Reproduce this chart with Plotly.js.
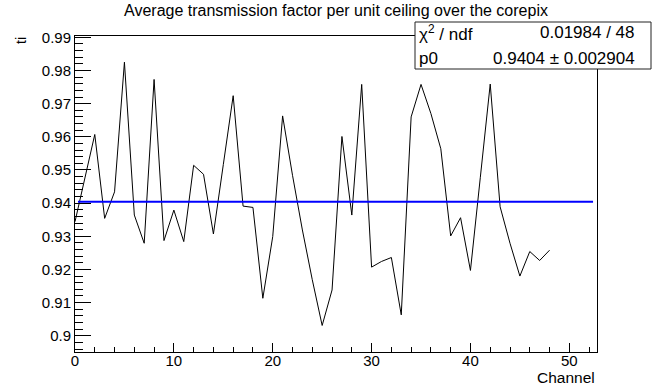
<!DOCTYPE html>
<html>
<head>
<meta charset="utf-8">
<script src="https://cdn.plot.ly/plotly-3.0.1.min.js"></script>
<style>html,body{margin:0;padding:0;background:#fff;}#chart{width:660px;height:385px;}</style>
</head>
<body>
<div id="chart"></div>
<script>
var chartTitle = "Average transmission factor per unit ceiling over the corepix";
var xTitle = "Channel";
var yTitle = "ti";
var channels = [0,1,2,3,4,5,6,7,8,9,10,11,12,13,14,15,16,17,18,19,20,21,22,23,24,25,26,27,28,29,30,31,32,33,34,35,36,37,38,39,40,41,42,43,44,45,46,47,48];
var transmission = [0.9344,0.9475,0.9607,0.9354,0.9434,0.9825,0.9364,0.9279,0.9773,0.9287,
  0.9379,0.9284,0.9514,0.9487,0.9307,0.9516,0.9724,0.9391,0.9387,0.9113,
  0.9299,0.9663,0.9484,0.9319,0.9169,0.9031,0.9138,0.9601,0.9364,0.9758,
  0.9207,0.9224,0.9236,0.9063,0.9660,0.9758,0.9670,0.9564,0.9301,0.9356,
  0.9197,0.9478,0.9759,0.9389,0.9279,0.9180,0.9254,0.9227,0.9258];
var fitP0 = 0.9404;
var fitRange = [0.3, 52.4];
var statsLabels = ["\u03c7<sup>2</sup> / ndf", "p0"];
var statsValues = ["0.01984 / 48", "0.9404 \u00b1 0.002904"];
var xRange = [0, 52.8];
var yRange = [0.8951, 0.9904];

var FONT = "Liberation Sans, Arial, Helvetica, sans-serif";

var traces = [
  {x: channels, y: transmission, type: "scatter", mode: "lines",
   line: {color: "#000", width: 1}, hoverinfo: "skip"},
  {x: fitRange, y: [fitP0, fitP0], type: "scatter", mode: "lines",
   line: {color: "#0000ff", width: 2}, hoverinfo: "skip"}
];

// pixel helpers relative to plot frame (l=75, t=36, w=522, h=316)
function px(x){ return (x - 75) / 522; }
function py(y){ return (352 - y) / 316; }

var annotations = [
  {text: xTitle, xref: "paper", yref: "paper", x: px(597), y: py(377), xanchor: "right", yanchor: "middle",
   showarrow: false, font: {family: FONT, size: 15.5, color: "#000"}},
  {text: yTitle, xref: "paper", yref: "paper", x: px(21), y: py(41), xanchor: "center", yanchor: "middle",
   textangle: -90, showarrow: false, font: {family: FONT, size: 14, color: "#000"}},
  {text: statsLabels[0], xref: "paper", yref: "paper", x: px(417), y: py(33), xanchor: "left", yanchor: "middle",
   showarrow: false, font: {family: FONT, size: 17, color: "#000"}},
  {text: statsValues[0], xref: "paper", yref: "paper", x: px(637), y: py(33), xanchor: "right", yanchor: "middle",
   showarrow: false, font: {family: FONT, size: 17, color: "#000"}},
  {text: statsLabels[1], xref: "paper", yref: "paper", x: px(417), y: py(58), xanchor: "left", yanchor: "middle",
   showarrow: false, font: {family: FONT, size: 17, color: "#000"}},
  {text: statsValues[1], xref: "paper", yref: "paper", x: px(637), y: py(58), xanchor: "right", yanchor: "middle",
   showarrow: false, font: {family: FONT, size: 17, color: "#000"}}
];

var shapes = [
  {type: "rect", xref: "paper", yref: "paper", x0: px(415), x1: px(651), y0: py(69), y1: py(22),
   line: {color: "#222", width: 1}, fillcolor: "#fff", layer: "above"}
];

var layout = {
  width: 660, height: 385,
  margin: {l: 75, r: 63, t: 36, b: 33, pad: 0},
  paper_bgcolor: "#fff", plot_bgcolor: "#fff",
  showlegend: false,
  title: {text: chartTitle, xref: "paper", x: 0.5, xanchor: "center", yref: "container", y: 1 - 10/385, yanchor: "middle",
          font: {family: FONT, size: 16, color: "#000"}},
  xaxis: {range: xRange, showgrid: false, zeroline: false, showline: true, mirror: true, linecolor: "#000", linewidth: 1,
          ticks: "inside", ticklen: 9, tickcolor: "#000", tick0: 0, dtick: 10, ticklabelstandoff: -5,
          minor: {ticks: "inside", ticklen: 5, dtick: 2, tick0: 0, tickcolor: "#000", showgrid: false},
          tickfont: {family: FONT, size: 15, color: "#000"}},
  yaxis: {range: yRange, showgrid: false, zeroline: false, showline: true, mirror: true, linecolor: "#000", linewidth: 1,
          ticks: "inside", ticklen: 16, tickcolor: "#000", tick0: 0.9, dtick: 0.01,
          minor: {ticks: "inside", ticklen: 8, dtick: 0.002, tick0: 0.9, tickcolor: "#000", showgrid: false},
          tickfont: {family: FONT, size: 15, color: "#000"}},
  annotations: annotations,
  shapes: shapes
};

Plotly.newPlot("chart", traces, layout, {staticPlot: true, displayModeBar: false});
</script>
</body>
</html>
